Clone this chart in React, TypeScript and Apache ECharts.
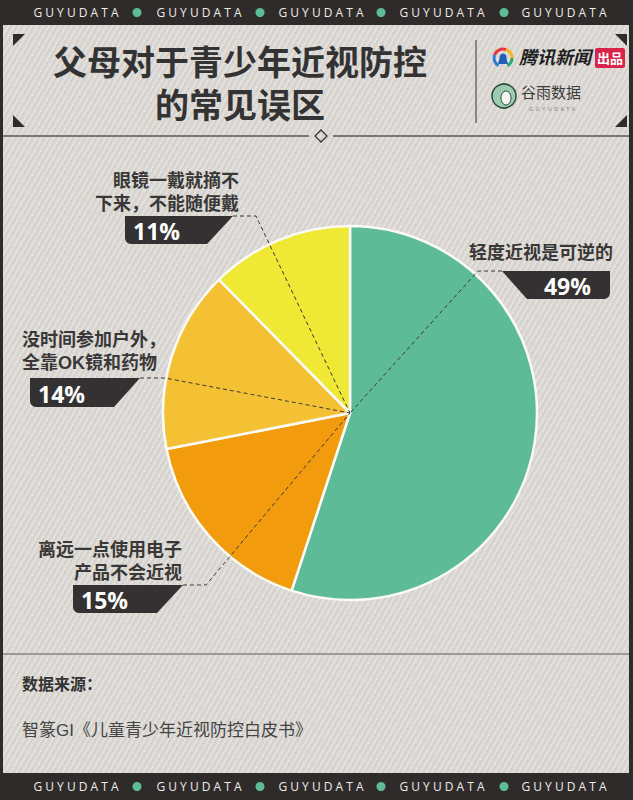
import React, { useEffect, useRef } from "react";
import * as echarts from "echarts";

// ---- data ----
const categories = [
  "轻度近视是可逆的",
  "离远一点使用电子\n产品不会近视",
  "没时间参加户外，\n全靠OK镜和药物",
  "眼镜一戴就摘不\n下来，不能随便戴",
];
const values = [49, 15, 14, 11];
const colors = ["#5dbb98", "#f29b0c", "#f4c134", "#efe936"];
const titleLines = ["父母对于青少年近视防控", "的常见误区"];
const sourceLabel = "数据来源：";
const sourceText = "智篆GI《儿童青少年近视防控白皮书》";
const brand = "GUYUDATA";

// ---- layout ----
const CX = 350;
const CY = 413;
const R = 187;
const DARK = "#2f2b2a";
const BOX = "#333131";
const CJK = "'Liberation Sans', 'Noto Sans CJK SC', sans-serif";

type LabelLayout = {
  side: "left" | "right";
  nameX: number;
  nameY: number;
  nameAlign: "left" | "right";
  top: number;
  bottom: number;
  x1: number;
  x2: number;
  x3: number;
  pctX: number;
  pctAlign: "left" | "right";
  corner: [number, number];
  elbow: [number, number];
};

const layouts: LabelLayout[] = [
  { side: "right", nameX: 613, nameY: 253, nameAlign: "right", top: 271, bottom: 299, x1: 502, x2: 610, x3: 527, pctX: 591, pctAlign: "right", corner: [502, 271], elbow: [478, 271] },
  { side: "left", nameX: 182, nameY: 550, nameAlign: "right", top: 585, bottom: 613, x1: 73, x2: 183, x3: 157, pctX: 81, pctAlign: "left", corner: [183, 585], elbow: [206, 585] },
  { side: "left", nameX: 22, nameY: 340, nameAlign: "left", top: 378, bottom: 407, x1: 30, x2: 140, x3: 114, pctX: 38, pctAlign: "left", corner: [140, 378], elbow: [165, 378] },
  { side: "left", nameX: 239, nameY: 181, nameAlign: "right", top: 216, bottom: 244, x1: 125, x2: 233, x3: 207, pctX: 133, pctAlign: "left", corner: [233, 216], elbow: [256, 216] },
];

function arc(cx: number, cy: number, r: number, a0: number, a1: number, n = 5) {
  const pts: number[][] = [];
  for (let i = 0; i <= n; i++) {
    const a = ((a0 + ((a1 - a0) * i) / n) * Math.PI) / 180;
    pts.push([cx + r * Math.cos(a), cy + r * Math.sin(a)]);
  }
  return pts;
}

function boxPoints(l: LabelLayout) {
  const r = 6;
  if (l.side === "left") {
    return [
      [l.x1, l.top],
      [l.x2, l.top],
      [l.x3, l.bottom],
      ...arc(l.x1 + r, l.bottom - r, r, 90, 180),
    ];
  }
  return [
    [l.x1, l.top],
    [l.x2, l.top],
    ...arc(l.x2 - r, l.bottom - r, r, 0, 90),
    [l.x3, l.bottom],
  ];
}

function buildGraphic() {
  const g: any[] = [];
  // frame bands
  g.push({ type: "rect", shape: { x: 0, y: 0, width: 633, height: 25 }, style: { fill: DARK }, z: 1 });
  g.push({ type: "rect", shape: { x: 0, y: 773, width: 633, height: 27 }, style: { fill: DARK }, z: 1 });
  g.push({ type: "rect", shape: { x: 0, y: 0, width: 3, height: 800 }, style: { fill: DARK }, z: 1 });
  g.push({ type: "rect", shape: { x: 629, y: 0, width: 4, height: 800 }, style: { fill: DARK }, z: 1 });
  // brand strip
  const spaced = brand.split("").join(" ");
  const brandX = [76, 199, 321, 442, 564];
  const dotX = [137, 260, 381, 504];
  [12.5, 786.5].forEach((y) => {
    brandX.forEach((x) =>
      g.push({
        type: "text", x, y, z: 2,
        style: { text: spaced, fill: "#eeece9", font: "500 12px 'Open Sans', sans-serif", align: "center", verticalAlign: "middle" },
      })
    );
    dotX.forEach((x) => g.push({ type: "circle", shape: { cx: x, cy: y, r: 4.5 }, style: { fill: "#5dbb98" }, z: 2 }));
  });
  // corner triangles
  const tri = [
    [[13, 34], [25, 34], [13, 46]],
    [[13, 115], [13, 127], [25, 127]],
    [[615, 34], [627, 34], [627, 46]],
    [[627, 115], [627, 127], [615, 127]],
  ];
  tri.forEach((p) => g.push({ type: "polygon", shape: { points: p }, style: { fill: "#2f2d2c" }, z: 2 }));
  // title
  titleLines.forEach((t, i) =>
    g.push({
      type: "text", x: 240, y: 63 + i * 43, z: 2,
      style: { text: t, fill: "#333", font: `bold 34px ${CJK}`, align: "center", verticalAlign: "middle" },
    })
  );
  // divider
  g.push({ type: "line", shape: { x1: 476, y1: 40, x2: 476, y2: 123 }, style: { stroke: "#6d6b69", lineWidth: 1.5 }, z: 2 });
  // tencent news logo
  const lc = [503, 58];
  const segs = [
    { a0: 200, a1: 290, c: "#e8343b" },
    { a0: 290, a1: 360, c: "#f5b51f" },
    { a0: 0, a1: 60, c: "#2aa876" },
    { a0: 120, a1: 200, c: "#2a7fd4" },
  ];
  segs.forEach((s) =>
    g.push({
      type: "arc", z: 2,
      shape: { cx: lc[0], cy: lc[1], r: 9, startAngle: (s.a0 * Math.PI) / 180, endAngle: (s.a1 * Math.PI) / 180 },
      style: { stroke: s.c, lineWidth: 3, fill: null },
    })
  );
  g.push({ type: "circle", shape: { cx: lc[0], cy: lc[1] - 1, r: 3.5 }, style: { fill: "#1f5fb8" }, z: 3 });
  g.push({ type: "polygon", shape: { points: [[lc[0] - 5, lc[1] + 6], [lc[0] + 5, lc[1] + 6], [lc[0] + 3, lc[1] - 1], [lc[0] - 3, lc[1] - 1]] }, style: { fill: "#1f5fb8" }, z: 3 });
  g.push({
    type: "text", x: 519, y: 58, z: 2,
    style: { text: "腾讯新闻", fill: "#1e1e1e", font: `italic bold 18px ${CJK}`, verticalAlign: "middle" },
  });
  g.push({ type: "rect", shape: { x: 595, y: 48, width: 30, height: 20, r: 2 }, style: { fill: "#d8234a" }, z: 2 });
  g.push({
    type: "text", x: 610, y: 58, z: 3,
    style: { text: "出品", fill: "#fff", font: `bold 13px ${CJK}`, align: "center", verticalAlign: "middle" },
  });
  // guyu logo
  g.push({ type: "circle", shape: { cx: 504, cy: 96, r: 12 }, style: { fill: "#9ccbb0", stroke: "#2f4b3d", lineWidth: 1.5 }, z: 2 });
  g.push({ type: "ellipse", shape: { cx: 506, cy: 98, rx: 5, ry: 7 }, style: { fill: "#f4f4f0", stroke: "#2f4b3d", lineWidth: 1 }, z: 3 });
  g.push({
    type: "text", x: 521, y: 92, z: 2,
    style: { text: "谷雨数据", fill: "#3a3a3a", font: `15px ${CJK}`, verticalAlign: "middle" },
  });
  g.push({
    type: "text", x: 552, y: 109, z: 2,
    style: { text: brand.split("").join("  "), fill: "#777", font: "5px sans-serif", align: "center", verticalAlign: "middle" },
  });
  // header separator with diamond
  g.push({ type: "line", shape: { x1: 3, y1: 136, x2: 309, y2: 136 }, style: { stroke: "#5a5856", lineWidth: 1.5 }, z: 2 });
  g.push({ type: "line", shape: { x1: 333, y1: 136, x2: 629, y2: 136 }, style: { stroke: "#5a5856", lineWidth: 1.5 }, z: 2 });
  g.push({ type: "polygon", shape: { points: [[321, 130], [327, 136], [321, 142], [315, 136]] }, style: { fill: "none", stroke: "#333", lineWidth: 1.3 }, z: 2 });
  // footer separator and source
  g.push({ type: "line", shape: { x1: 3, y1: 654, x2: 629, y2: 654 }, style: { stroke: "#9c9a97", lineWidth: 2 }, z: 2 });
  g.push({
    type: "text", x: 22, y: 684, z: 2,
    style: { text: sourceLabel, fill: "#333", font: `bold 16px ${CJK}`, verticalAlign: "middle" },
  });
  g.push({
    type: "text", x: 22, y: 730, z: 2,
    style: { text: sourceText, fill: "#444", font: `17px ${CJK}`, verticalAlign: "middle" },
  });
  // labels
  layouts.forEach((l, i) => {
    g.push({
      type: "polyline", z: 20,
      shape: { points: [l.corner, l.elbow, [CX, CY]] },
      style: { stroke: "#3a3836", lineWidth: 1, lineDash: [4, 3], fill: null },
    });
    categories[i].split("\n").forEach((line, k) =>
      g.push({
        type: "text", x: l.nameX, y: l.nameY + k * 23, z: 20,
        style: {
          text: line, fill: "#393837", font: `bold 18px ${CJK}`,
          align: l.nameAlign, verticalAlign: "middle",
        },
      })
    );
    g.push({ type: "polygon", shape: { points: boxPoints(l) }, style: { fill: BOX }, z: 20 });
    g.push({
      type: "text", x: l.pctX, y: (l.top + l.bottom) / 2 + 1, z: 21,
      style: {
        text: `${values[i]}%`, fill: "#ffffff", font: "bold 23px 'Open Sans', sans-serif",
        align: l.pctAlign, verticalAlign: "middle",
      },
    });
  });
  return g;
}

export default function App() {
  const ref = useRef<HTMLDivElement>(null);
  useEffect(() => {
    if (!ref.current) return;
    const chart = echarts.init(ref.current, undefined, { renderer: "svg" });
    chart.setOption({
      animation: false,
      backgroundColor: "transparent",
      series: [
        {
          type: "pie",
          center: [CX, CY],
          radius: R,
          startAngle: 90,
          clockwise: true,
          silent: true,
          label: { show: false },
          labelLine: { show: false },
          itemStyle: { borderColor: "#fbfaf6", borderWidth: 2.5 },
          data: categories.map((name, i) => ({ name, value: values[i], itemStyle: { color: colors[i] } })),
          z: 5,
        },
      ],
      graphic: buildGraphic(),
    });
    return () => chart.dispose();
  }, []);
  return (
    <div
      ref={ref}
      style={{
        position: "absolute",
        left: 0,
        top: 0,
        width: 633,
        height: 800,
        backgroundColor: "#dcd9d5",
        backgroundImage:
          "repeating-linear-gradient(120deg, rgba(255,255,255,0.28) 0px, rgba(255,255,255,0.28) 1px, rgba(0,0,0,0) 1px, rgba(0,0,0,0) 2px, rgba(120,115,110,0.10) 2px, rgba(120,115,110,0.10) 3px, rgba(0,0,0,0) 3px, rgba(0,0,0,0) 5px)",
      }}
    />
  );
}
